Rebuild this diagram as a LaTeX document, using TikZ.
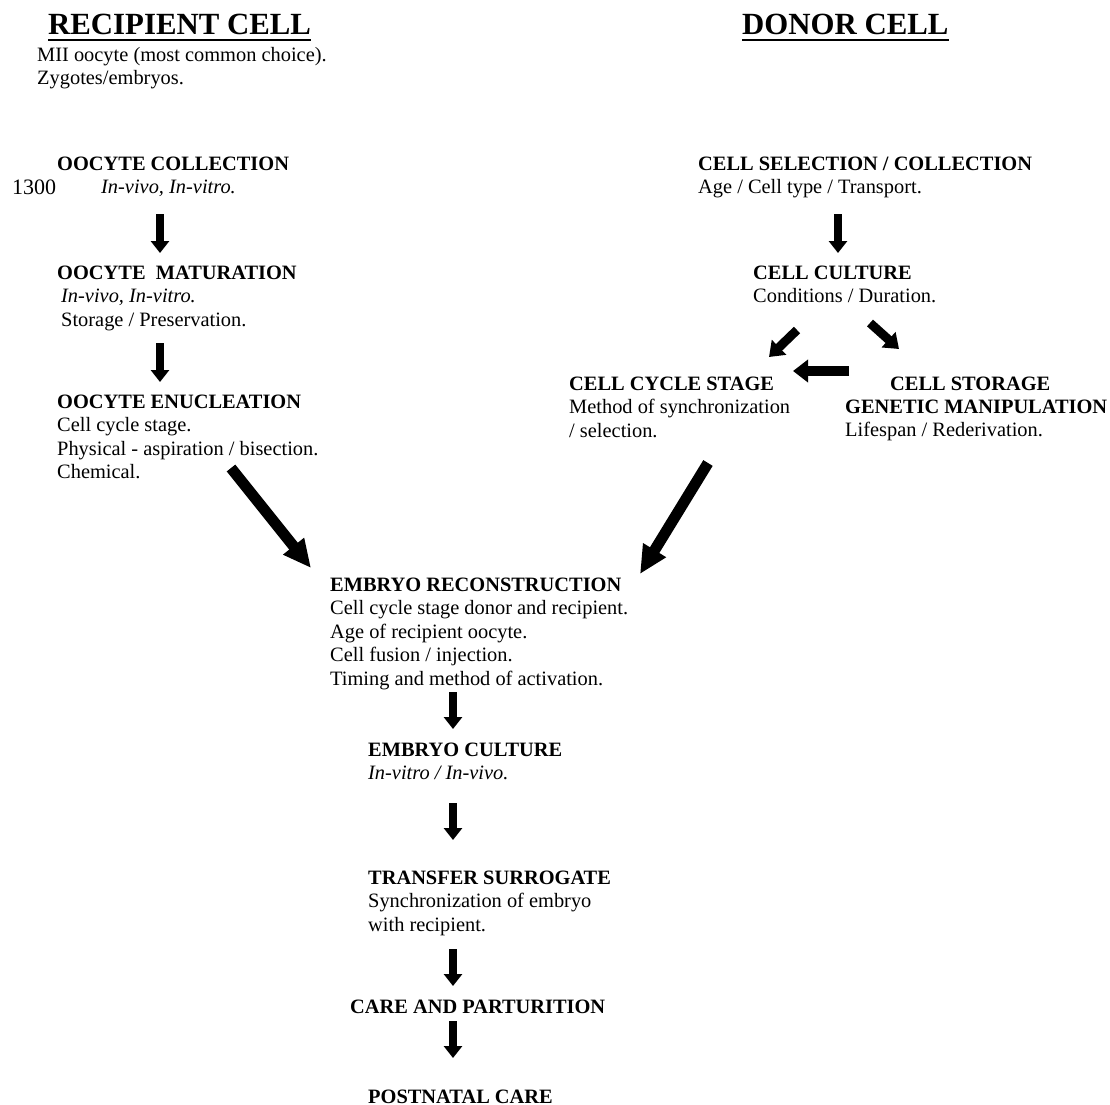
\documentclass[tikz,border=0pt]{standalone}
\usepackage{fontspec}
\setmainfont{Liberation Serif}
\usetikzlibrary{arrows.meta}
\begin{document}
\begin{tikzpicture}[x=1bp,y=-1bp,
  txt/.style={anchor=base west, inner sep=0pt, align=left, font=\fontsize{20.4bp}{23.5bp}\selectfont},
  hd/.style={txt, font=\fontsize{20.4bp}{23.5bp}\selectfont\bfseries},
  ttl/.style={anchor=base west, inner sep=0pt, font=\fontsize{30.8bp}{34bp}\selectfont\bfseries},
  varr/.style={line width=8bp, -{Triangle[width=18bp,length=12bp]}},
  sarr/.style={line width=9bp, -{Triangle[width=20bp,length=14bp]}},
  barr/.style={line width=11bp, -{Triangle[width=25bp,length=28bp]}}]
\useasboundingbox (0,0) rectangle (1110,1105);
% titles
\node[ttl] (rt) at (48,34) {RECIPIENT CELL};
\node[ttl] (dt) at (742,34) {DONOR CELL};
\draw[line width=2bp] ([yshift=-5.5bp]rt.base west) -- ([yshift=-5.5bp]rt.base east);
\draw[line width=2bp] ([yshift=-5.5bp]dt.base west) -- ([yshift=-5.5bp]dt.base east);
% (multi-line nodes: base anchor is the baseline of the last line)
\node[txt] (rn) at (37,84.5) {MII oocyte (most common choice).\\Zygotes/embryos.};
% recipient column
\node[hd] (oc) at (57,170) {OOCYTE COLLECTION};
\node[txt, font=\fontsize{22bp}{24bp}\selectfont] (num) at (12,194) {1300};
\node[txt] (ocv) at (101,193) {\textit{In-vivo, In-vitro.}};
\node[txt] (om) at (57,326) {\textbf{OOCYTE\ \ MATURATION}\\\hspace*{4bp}\textit{In-vivo, In-vitro.}\\\hspace*{4bp}Storage / Preservation.};
\node[txt] (oe) at (57,478.5) {\textbf{OOCYTE ENUCLEATION}\\Cell cycle stage.\\Physical - aspiration / bisection.\\Chemical.};
% donor column
\node[txt] (cs) at (698,193.5) {\textbf{CELL SELECTION / COLLECTION}\\Age / Cell type / Transport.};
\node[txt] (cc) at (753,302.5) {\textbf{CELL CULTURE}\\Conditions / Duration.};
\node[txt] (ccs) at (569,437) {\textbf{CELL CYCLE STAGE}\\Method of synchronization\\/ selection.};
\node[hd] (cst) at (890,390) {CELL STORAGE};
\node[txt] (gm) at (845,436.5) {\textbf{GENETIC MANIPULATION}\\Lifespan / Rederivation.};
% common
\node[txt] (er) at (330,685) {\textbf{EMBRYO RECONSTRUCTION}\\Cell cycle stage donor and recipient.\\Age of recipient oocyte.\\Cell fusion / injection.\\Timing and method of activation.};
\node[txt] (ec) at (368,779.5) {\textbf{EMBRYO CULTURE}\\\textit{In-vitro / In-vivo.}};
\node[txt] (ts) at (368,931) {\textbf{TRANSFER SURROGATE}\\Synchronization of embryo\\with recipient.};
\node[hd] (cp) at (350,1013) {CARE AND PARTURITION};
\node[hd] (pc) at (368,1103) {POSTNATAL CARE};
% arrow ends
\coordinate (a1s) at (160,214);  \coordinate (a1e) at (160,253);
\coordinate (a2s) at (160,343);  \coordinate (a2e) at (160,382);
\coordinate (a3s) at (838,214);  \coordinate (a3e) at (838,253);
\coordinate (a4s) at (797,330);  \coordinate (a4e) at (769,357);
\coordinate (a5s) at (870,323);  \coordinate (a5e) at (899,349);
\coordinate (a6s) at (849,371);  \coordinate (a6e) at (793,371);
\coordinate (a7s) at (231,468);  \coordinate (a7e) at (311,568);
\coordinate (a8s) at (708,463);  \coordinate (a8e) at (640,574);
\coordinate (a9s) at (453,692);  \coordinate (a9e) at (453,729);
\coordinate (a10s) at (453,803); \coordinate (a10e) at (453,840);
\coordinate (a11s) at (453,949); \coordinate (a11e) at (453,986);
\coordinate (a12s) at (453,1021); \coordinate (a12e) at (453,1058);
% arrows
\draw[varr] (a1s) -- (a1e);
\draw[varr] (a2s) -- (a2e);
\draw[varr] (a3s) -- (a3e);
\draw[sarr] (a4s) -- (a4e);
\draw[sarr] (a5s) -- (a5e);
\draw[sarr, line width=10bp, -{Triangle[width=22bp,length=15bp]}] (a6s) -- (a6e);
\draw[barr] (a7s) -- (a7e);
\draw[barr] (a8s) -- (a8e);
\draw[varr] (a9s) -- (a9e);
\draw[varr] (a10s) -- (a10e);
\draw[varr] (a11s) -- (a11e);
\draw[varr] (a12s) -- (a12e);
\end{tikzpicture}
\end{document}
